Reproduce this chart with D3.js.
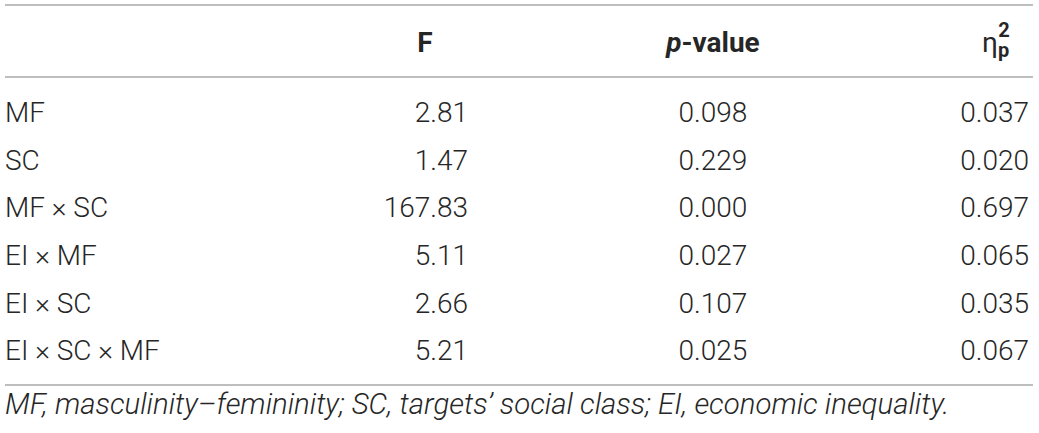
<!DOCTYPE html>
<html>
	<head>
		<meta charset="utf-8">
		<title></title>
		<script src="https://d3js.org/d3.v7.min.js"></script>
		<style>
			body { margin: 0; background: #fff; }
			text { font-family: "Roboto", "Liberation Sans", sans-serif; fill: #262626; }
		</style>
	</head>
	<body>

		<div class="main_div"></div>
		<script>

			// Dados da tabela
			var effects = ["MF", "SC", "MF \u00d7 SC", "EI \u00d7 MF", "EI \u00d7 SC", "EI \u00d7 SC \u00d7 MF"];
			var fValues = ["2.81", "1.47", "167.83", "5.11", "2.66", "5.21"];
			var pValues = ["0.098", "0.229", "0.000", "0.027", "0.107", "0.025"];
			var etaValues = ["0.037", "0.020", "0.697", "0.065", "0.035", "0.067"];
			var note = "MF, masculinity\u2013femininity; SC, targets\u2019 social class; EI, economic inequality.";

			var width = 1039, height = 433;
			var left = 5, right = 1033;
			var fs = 28;

			var svg = d3.select(".main_div")
						.append("svg")
						.attr("width", width)
						.attr("height", height);

			// Escala das linhas
			var yScale = d3.scaleBand().domain(effects).range([88, 374]);

			// Linhas horizontais (topo, cabecalho, fim)
			[5, 77, 385].forEach(function(y){
				svg.append("line")
					.attr("x1", left).attr("x2", right)
					.attr("y1", y).attr("y2", y)
					.attr("stroke", "#a8a8a8")
					.attr("stroke-width", 1.6);
			});

			// Cabecalho
			var head = svg.append("g").attr("font-weight", 700).attr("font-size", fs);
			head.append("text").attr("x", 425).attr("y", 52).attr("text-anchor", "middle").text("F");
			var pv = head.append("text").attr("x", 713).attr("y", 52).attr("text-anchor", "middle");
			pv.append("tspan").attr("font-style", "italic").text("p");
			pv.append("tspan").text("-value");
			var eta = head.append("text").attr("x", 982).attr("y", 52);
			eta.append("tspan").attr("font-weight", 400).text("\u03b7");
			eta.append("tspan").attr("font-size", 20).attr("dy", 5).text("p");
			eta.append("tspan").attr("font-size", 20).attr("dx", -11).attr("dy", -20).text("2");

			// Corpo
			var rows = svg.selectAll("g.row").data(effects).enter().append("g")
						.attr("class", "row")
						.attr("font-size", fs)
						.attr("font-weight", 300)
						.attr("transform", function(d){ return "translate(0," + (yScale(d) + yScale.bandwidth()/2 + 10) + ")"; });

			rows.append("text").attr("x", left).text(function(d){ return d; });
			rows.append("text").attr("x", 468).attr("text-anchor", "end").text(function(d, i){ return fValues[i]; });
			rows.append("text").attr("x", 713).attr("text-anchor", "middle").text(function(d, i){ return pValues[i]; });
			rows.append("text").attr("x", 1029).attr("text-anchor", "end").text(function(d, i){ return etaValues[i]; });

			// Nota
			var foot = svg.append("text")
				.attr("x", left).attr("y", 414)
				.attr("font-size", 20)
				.attr("font-weight", 300)
				.attr("font-style", "italic")
				.text(note);
			// ajusta o tamanho para ocupar ate x ~ 950
			var len = foot.node().getComputedTextLength();
			foot.attr("font-size", 20 * 945 / len);

		</script>
	</body>
</html>
